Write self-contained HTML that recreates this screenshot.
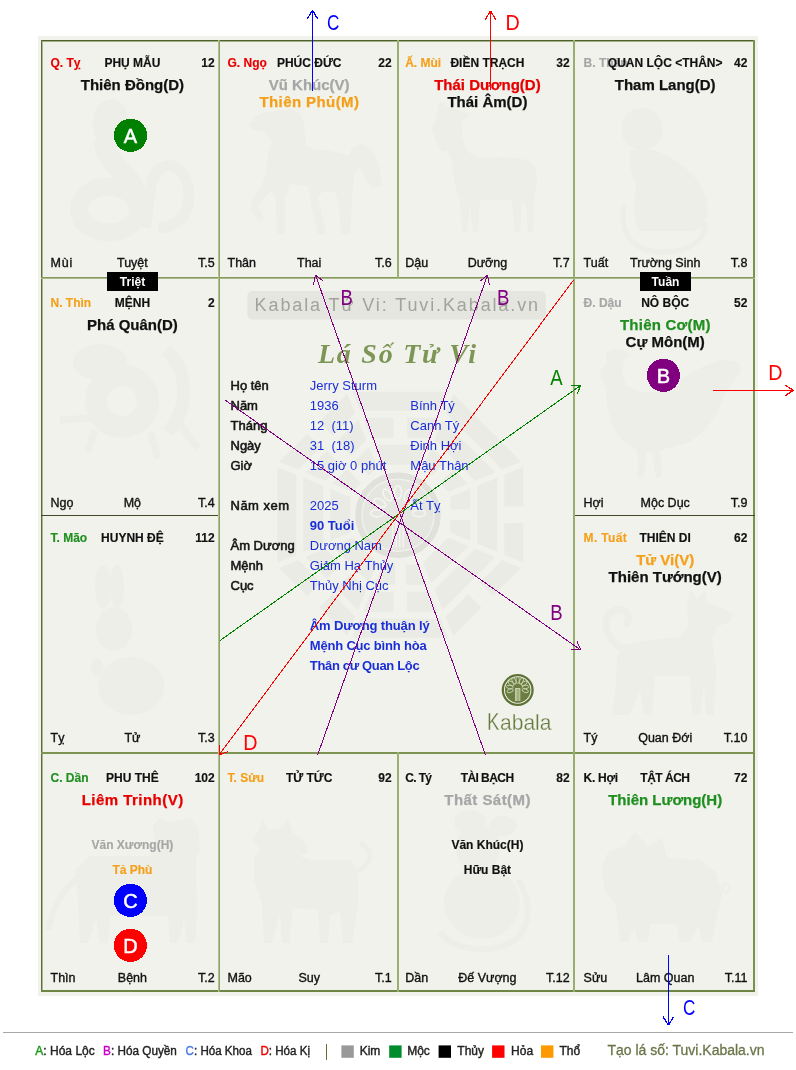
<!DOCTYPE html>
<html lang="vi"><head><meta charset="utf-8"><title>Lá Số Tử Vi</title>
<style>
html,body{margin:0;padding:0;background:#fff;width:796px;height:1070px;overflow:hidden}
svg{display:block;will-change:transform}
text{font-family:"Liberation Sans",sans-serif}
</style></head><body>
<svg width="796" height="1070" viewBox="0 0 796 1070">
<rect x="0" y="0" width="796" height="1070" fill="#fff"/>
<rect x="38" y="36" width="720" height="960" fill="#f2f2ed"/>
<g fill="#eaebe4">
<polygon points="-26.0,-70 26.0,-70 17.7,-50 -17.7,-50" transform="translate(400.3,514.8) rotate(0)"/>
<polygon points="-37.2,-97 -6.785,-97 -6.785,-77 -28.9,-77" transform="translate(400.3,514.8) rotate(0)"/>
<polygon points="6.785,-97 37.2,-97 28.9,-77 6.785,-77" transform="translate(400.3,514.8) rotate(0)"/>
<polygon points="-47.9,-123 47.9,-123 40.1,-104 -40.1,-104" transform="translate(400.3,514.8) rotate(0)"/>
<polygon points="-26.0,-70 -5.3,-70 -5.3,-50 -17.7,-50" transform="translate(400.3,514.8) rotate(45)"/>
<polygon points="5.3,-70 26.0,-70 17.7,-50 5.3,-50" transform="translate(400.3,514.8) rotate(45)"/>
<polygon points="-37.2,-97 37.2,-97 28.9,-77 -28.9,-77" transform="translate(400.3,514.8) rotate(45)"/>
<polygon points="-47.9,-123 47.9,-123 40.1,-104 -40.1,-104" transform="translate(400.3,514.8) rotate(45)"/>
<polygon points="-26.0,-70 -5.3,-70 -5.3,-50 -17.7,-50" transform="translate(400.3,514.8) rotate(90)"/>
<polygon points="5.3,-70 26.0,-70 17.7,-50 5.3,-50" transform="translate(400.3,514.8) rotate(90)"/>
<polygon points="-37.2,-97 37.2,-97 28.9,-77 -28.9,-77" transform="translate(400.3,514.8) rotate(90)"/>
<polygon points="-47.9,-123 -8.2425,-123 -8.2425,-104 -40.1,-104" transform="translate(400.3,514.8) rotate(90)"/>
<polygon points="8.2425,-123 47.9,-123 40.1,-104 8.2425,-104" transform="translate(400.3,514.8) rotate(90)"/>
<polygon points="-26.0,-70 26.0,-70 17.7,-50 -17.7,-50" transform="translate(400.3,514.8) rotate(135)"/>
<polygon points="-37.2,-97 37.2,-97 28.9,-77 -28.9,-77" transform="translate(400.3,514.8) rotate(135)"/>
<polygon points="-47.9,-123 -8.2425,-123 -8.2425,-104 -40.1,-104" transform="translate(400.3,514.8) rotate(135)"/>
<polygon points="8.2425,-123 47.9,-123 40.1,-104 8.2425,-104" transform="translate(400.3,514.8) rotate(135)"/>
<polygon points="-26.0,-70 -5.3,-70 -5.3,-50 -17.7,-50" transform="translate(400.3,514.8) rotate(180)"/>
<polygon points="5.3,-70 26.0,-70 17.7,-50 5.3,-50" transform="translate(400.3,514.8) rotate(180)"/>
<polygon points="-37.2,-97 -6.785,-97 -6.785,-77 -28.9,-77" transform="translate(400.3,514.8) rotate(180)"/>
<polygon points="6.785,-97 37.2,-97 28.9,-77 6.785,-77" transform="translate(400.3,514.8) rotate(180)"/>
<polygon points="-47.9,-123 47.9,-123 40.1,-104 -40.1,-104" transform="translate(400.3,514.8) rotate(180)"/>
<polygon points="-26.0,-70 26.0,-70 17.7,-50 -17.7,-50" transform="translate(400.3,514.8) rotate(225)"/>
<polygon points="-37.2,-97 -6.785,-97 -6.785,-77 -28.9,-77" transform="translate(400.3,514.8) rotate(225)"/>
<polygon points="6.785,-97 37.2,-97 28.9,-77 6.785,-77" transform="translate(400.3,514.8) rotate(225)"/>
<polygon points="-47.9,-123 -8.2425,-123 -8.2425,-104 -40.1,-104" transform="translate(400.3,514.8) rotate(225)"/>
<polygon points="8.2425,-123 47.9,-123 40.1,-104 8.2425,-104" transform="translate(400.3,514.8) rotate(225)"/>
<polygon points="-26.0,-70 26.0,-70 17.7,-50 -17.7,-50" transform="translate(400.3,514.8) rotate(270)"/>
<polygon points="-37.2,-97 37.2,-97 28.9,-77 -28.9,-77" transform="translate(400.3,514.8) rotate(270)"/>
<polygon points="-47.9,-123 47.9,-123 40.1,-104 -40.1,-104" transform="translate(400.3,514.8) rotate(270)"/>
<polygon points="-26.0,-70 -5.3,-70 -5.3,-50 -17.7,-50" transform="translate(400.3,514.8) rotate(315)"/>
<polygon points="5.3,-70 26.0,-70 17.7,-50 5.3,-50" transform="translate(400.3,514.8) rotate(315)"/>
<polygon points="-37.2,-97 -6.785,-97 -6.785,-77 -28.9,-77" transform="translate(400.3,514.8) rotate(315)"/>
<polygon points="6.785,-97 37.2,-97 28.9,-77 6.785,-77" transform="translate(400.3,514.8) rotate(315)"/>
<polygon points="-47.9,-123 -8.2425,-123 -8.2425,-104 -40.1,-104" transform="translate(400.3,514.8) rotate(315)"/>
<polygon points="8.2425,-123 47.9,-123 40.1,-104 8.2425,-104" transform="translate(400.3,514.8) rotate(315)"/>
</g>
<circle cx="398" cy="515.3" r="43" fill="#f2f2ed"/>
<circle cx="398" cy="515.3" r="39.7" fill="none" stroke="#dfe1da" stroke-width="6"/>
<circle cx="398" cy="515.3" r="35.5" fill="#e4e6df"/>
<g fill="none" stroke="#f3f4ef" stroke-width="1.8">
<ellipse cx="377.0" cy="513.3" rx="6.5" ry="3.5" transform="rotate(-180.0 377.0 513.3)"/>
<ellipse cx="379.8" cy="502.8" rx="6.5" ry="3.5" transform="rotate(-150.0 379.8 502.8)"/>
<ellipse cx="387.5" cy="495.1" rx="6.5" ry="3.5" transform="rotate(-120.0 387.5 495.1)"/>
<ellipse cx="398.0" cy="492.3" rx="6.5" ry="3.5" transform="rotate(-90.0 398.0 492.3)"/>
<ellipse cx="408.5" cy="495.1" rx="6.5" ry="3.5" transform="rotate(-60.0 408.5 495.1)"/>
<ellipse cx="416.2" cy="502.8" rx="6.5" ry="3.5" transform="rotate(-30.0 416.2 502.8)"/>
<ellipse cx="419.0" cy="513.3" rx="6.5" ry="3.5" transform="rotate(0.0 419.0 513.3)"/>
</g>
<rect x="392.0" y="519.3" width="1.5" height="28" fill="#f3f4ef"/>
<rect x="395.5" y="519.3" width="1.5" height="28" fill="#f3f4ef"/>
<rect x="399.0" y="519.3" width="1.5" height="28" fill="#f3f4ef"/>
<rect x="402.5" y="519.3" width="1.5" height="28" fill="#f3f4ef"/>
<g fill="#edeee8" stroke="none">
<ellipse cx="111" cy="124" rx="18" ry="25"/>
<path d="M104,140 C104,165 134,172 138,200" fill="none" stroke="#edeee8" stroke-width="20"/>
<ellipse cx="108.5" cy="209.5" rx="29.5" ry="23" fill="none" stroke="#edeee8" stroke-width="18"/>
<path d="M145,228 C150,200 148,170 165,166 C182,162 192,185 188,205 C184,222 170,228 158,228" fill="none" stroke="#edeee8" stroke-width="11"/>
<polygon points="249,125 255,117 264,113 280,110 293,110 300,114 304,122 305,135 306,145 313,149 330,151 344,154 349,156 352,148 362,144 372,150 378,162 381,175 381,186 372,188 366,180 360,168 355,172 353,185 352,201 350,234 341,234 339,205 335,192 322,192 318,198 326,234 318,234 312,210 308,186 290,184 285,200 285,234 277,234 276,202 272,190 265,197 258,207 264,218 259,221 250,210 253,198 262,185 266,172 268,152 272,141 264,132 253,130"/>
<polygon points="440,100 446,106 452,108 470,114 462,122 462,136 466,150 478,158 505,157 528,160 536,168 537,185 534,198 533,232 528,232 526,205 522,200 520,232 515,232 512,200 480,200 478,232 473,232 470,206 467,232 462,232 460,200 455,185 452,165 448,150 442,152 436,142 432,128 436,118"/>
<circle cx="642" cy="129" r="21"/>
<path d="M630,150 L655,150 C680,160 705,180 707,205 C708,222 702,230 690,231 L640,231 C632,220 634,200 636,185 C630,172 628,160 630,150 Z"/>
<path d="M624,205 C620,230 628,250 660,252 C690,253 706,240 705,222" fill="none" stroke="#edeee8" stroke-width="5"/>
<circle cx="122" cy="401" r="26" fill="none" stroke="#edeee8" stroke-width="22"/>
<ellipse cx="100" cy="362" rx="27" ry="18"/>
<path d="M166,350 C186,368 192,405 168,432" fill="none" stroke="#edeee8" stroke-width="13"/>
<path d="M95,430 L88,452 M150,432 L158,458 M180,425 L198,448 M92,418 L60,420" fill="none" stroke="#edeee8" stroke-width="7"/>
<path d="M600,372 L607,362 L606,352 L614,349 L622,350 L630,354 L624,360 L622,372 L626,385 L640,392 L660,392 L680,380 L700,368 L720,360 L739,362 L741,372 L730,385 L722,400 L716,415 L705,430 L690,442 L670,448 L660,450 L662,476 L656,478 L652,452 L646,452 L644,476 L638,478 L637,450 L622,440 L612,425 L607,405 L606,388 L602,380 Z"/>
<ellipse cx="103" cy="587" rx="8" ry="22"/>
<ellipse cx="117" cy="587" rx="7" ry="22"/>
<ellipse cx="114" cy="629" rx="18" ry="22"/>
<ellipse cx="131" cy="686" rx="33" ry="29"/>
<ellipse cx="97" cy="667" rx="6" ry="9"/>
<path d="M691,590 L697,600 L705,591 L708,603 L722,608 L734,614 L730,622 L716,627 L712,640 L716,670 L714,715 L706,715 L704,685 L700,715 L692,715 L690,676 L655,676 L652,715 L644,715 L640,690 L630,715 L612,715 L616,685 L617,660 L622,645 L650,640 L680,637 L688,626 L687,605 Z"/>
<path d="M622,648 C605,640 600,615 615,610 C628,606 632,620 625,626" fill="none" stroke="#edeee8" stroke-width="7"/>
<path d="M153,826 L160,818 L170,822 L190,818 L198,828 L200,850 L196,860 L197,916 L195,943 L187,943 L184,918 L178,943 L170,943 L168,916 L110,916 L108,943 L100,943 L96,918 L88,943 L80,943 L78,900 L75,870 L90,856 L150,856 L155,840 Z"/>
<path d="M78,878 C62,890 52,910 48,930" fill="none" stroke="#edeee8" stroke-width="6"/>
<path d="M263,818 L268,830 L282,828 L288,818 L292,832 L305,842 L308,852 L300,856 L310,860 L350,860 L358,872 L358,905 L352,943 L343,943 L340,912 L330,915 L328,943 L320,943 L318,910 L292,908 L290,943 L282,943 L280,912 L272,943 L264,943 L262,905 L254,880 L254,858 L260,848 L252,840 L258,832 Z"/>
<path d="M356,872 C372,866 375,848 360,844" fill="none" stroke="#edeee8" stroke-width="5"/>
<ellipse cx="470" cy="822" rx="16" ry="12"/>
<ellipse cx="503" cy="826" rx="14" ry="10"/>
<ellipse cx="478" cy="848" rx="22" ry="24"/>
<ellipse cx="482" cy="903" rx="38" ry="36"/>
<path d="M518,880 C535,905 532,940 496,948 C470,952 448,945 440,932" fill="none" stroke="#edeee8" stroke-width="6"/>
<path d="M635,832 L648,846 L662,838 L667,858 L700,860 L716,872 L722,895 L716,920 L712,942 L702,942 L698,925 L690,942 L680,942 L676,924 L650,924 L648,942 L638,942 L634,926 L628,942 L620,942 L616,905 L606,892 L601,870 L608,852 L625,846 Z"/>
<circle cx="726" cy="888" r="4" fill="none" stroke="#edeee8" stroke-width="2"/>
</g>
<rect x="41" y="40" width="714" height="1" fill="#4f5f30"/>
<rect x="42" y="41" width="712" height="1" fill="#a2b283"/>
<rect x="41" y="40" width="1" height="952" fill="#5d6e3b"/>
<rect x="42" y="41" width="1" height="950" fill="#a9b98b"/>
<rect x="753" y="40" width="1" height="952" fill="#7a9150"/>
<rect x="754" y="40" width="1" height="952" fill="#7a9150"/>
<rect x="41" y="990" width="714" height="1" fill="#6e8545"/>
<rect x="41" y="991" width="714" height="1" fill="#6e8545"/>
<rect x="41" y="277" width="714" height="1" fill="#86985a"/>
<rect x="41" y="278" width="714" height="1" fill="#a9b98b"/>
<rect x="41" y="515" width="179" height="1" fill="#3e4a28"/>
<rect x="573" y="515" width="182" height="1" fill="#3e4a28"/>
<rect x="41" y="752" width="714" height="1" fill="#7d9352"/>
<rect x="41" y="753" width="714" height="1" fill="#7d9352"/>
<rect x="218" y="40" width="1" height="952" fill="#b0c090"/>
<rect x="219" y="40" width="1" height="952" fill="#8ca262"/>
<rect x="397" y="40" width="1" height="238" fill="#9bb070"/>
<rect x="398" y="40" width="1" height="238" fill="#9bb070"/>
<rect x="397" y="752" width="1" height="240" fill="#9bb070"/>
<rect x="398" y="752" width="1" height="240" fill="#9bb070"/>
<rect x="573" y="40" width="1" height="952" fill="#98ad6e"/>
<rect x="574" y="40" width="1" height="952" fill="#98ad6e"/>
<text x="50.50" y="67.00" font-size="12" font-weight="bold" fill="#e80000" text-anchor="start" stroke="#e80000" stroke-width="0.15">Q. Tỵ</text>
<text x="132.40" y="67.00" font-size="12" font-weight="bold" fill="#111" text-anchor="middle" stroke="#111" stroke-width="0.15">PHỤ MẪU</text>
<text x="214.70" y="67.00" font-size="12" font-weight="bold" fill="#111" text-anchor="end" stroke="#111" stroke-width="0.15">12</text>
<text x="132.40" y="89.60" font-size="15" font-weight="bold" fill="#111" text-anchor="middle" stroke="#111" stroke-width="0.25">Thiên Đồng(D)</text>
<text x="50.50" y="267.00" font-size="12.5" font-weight="normal" fill="#111" text-anchor="start" stroke="#111" stroke-width="0.35" textLength="21.66" lengthAdjust="spacing">Mùi</text>
<text x="132.40" y="267.00" font-size="12.5" font-weight="normal" fill="#111" text-anchor="middle" stroke="#111" stroke-width="0.35">Tuyệt</text>
<text x="214.70" y="267.00" font-size="12.5" font-weight="normal" fill="#111" text-anchor="end" stroke="#111" stroke-width="0.35">T.5</text>
<text x="227.50" y="67.00" font-size="12" font-weight="bold" fill="#e80000" text-anchor="start" stroke="#e80000" stroke-width="0.15">G. Ngọ</text>
<text x="309.20" y="67.00" font-size="12" font-weight="bold" fill="#111" text-anchor="middle" stroke="#111" stroke-width="0.15">PHÚC ĐỨC</text>
<text x="391.70" y="67.00" font-size="12" font-weight="bold" fill="#111" text-anchor="end" stroke="#111" stroke-width="0.15">22</text>
<text x="309.20" y="89.60" font-size="15" font-weight="bold" fill="#a6a6a6" text-anchor="middle" stroke="#a6a6a6" stroke-width="0.25">Vũ Khúc(V)</text>
<text x="309.20" y="106.60" font-size="15" font-weight="bold" fill="#f5a01a" text-anchor="middle" stroke="#f5a01a" stroke-width="0.25" textLength="99.48" lengthAdjust="spacing">Thiên Phủ(M)</text>
<text x="227.50" y="267.00" font-size="12.5" font-weight="normal" fill="#111" text-anchor="start" stroke="#111" stroke-width="0.35">Thân</text>
<text x="309.20" y="267.00" font-size="12.5" font-weight="normal" fill="#111" text-anchor="middle" stroke="#111" stroke-width="0.35">Thai</text>
<text x="391.70" y="267.00" font-size="12.5" font-weight="normal" fill="#111" text-anchor="end" stroke="#111" stroke-width="0.35">T.6</text>
<text x="405.20" y="67.00" font-size="12" font-weight="bold" fill="#f5a01a" text-anchor="start" stroke="#f5a01a" stroke-width="0.15">Ấ. Mùi</text>
<text x="487.40" y="67.00" font-size="12" font-weight="bold" fill="#111" text-anchor="middle" stroke="#111" stroke-width="0.15">ĐIỀN TRẠCH</text>
<text x="569.70" y="67.00" font-size="12" font-weight="bold" fill="#111" text-anchor="end" stroke="#111" stroke-width="0.15">32</text>
<text x="487.40" y="89.60" font-size="15" font-weight="bold" fill="#e80000" text-anchor="middle" stroke="#e80000" stroke-width="0.25">Thái Dương(D)</text>
<text x="487.40" y="106.60" font-size="15" font-weight="bold" fill="#111" text-anchor="middle" stroke="#111" stroke-width="0.25">Thái Âm(D)</text>
<text x="405.20" y="267.00" font-size="12.5" font-weight="normal" fill="#111" text-anchor="start" stroke="#111" stroke-width="0.35">Dậu</text>
<text x="487.40" y="267.00" font-size="12.5" font-weight="normal" fill="#111" text-anchor="middle" stroke="#111" stroke-width="0.35">Dưỡng</text>
<text x="569.70" y="267.00" font-size="12.5" font-weight="normal" fill="#111" text-anchor="end" stroke="#111" stroke-width="0.35">T.7</text>
<text x="583.60" y="67.00" font-size="12" font-weight="bold" fill="#a6a6a6" text-anchor="start" stroke="#a6a6a6" stroke-width="0.15">B. Thân</text>
<text x="665.20" y="67.00" font-size="12" font-weight="bold" fill="#111" text-anchor="middle" stroke="#111" stroke-width="0.15">QUAN LỘC &lt;THÂN&gt;</text>
<text x="747.40" y="67.00" font-size="12" font-weight="bold" fill="#111" text-anchor="end" stroke="#111" stroke-width="0.15">42</text>
<text x="665.20" y="89.60" font-size="15" font-weight="bold" fill="#111" text-anchor="middle" stroke="#111" stroke-width="0.25">Tham Lang(D)</text>
<text x="583.60" y="267.00" font-size="12.5" font-weight="normal" fill="#111" text-anchor="start" stroke="#111" stroke-width="0.35">Tuất</text>
<text x="665.20" y="267.00" font-size="12.5" font-weight="normal" fill="#111" text-anchor="middle" stroke="#111" stroke-width="0.35">Trường Sinh</text>
<text x="747.40" y="267.00" font-size="12.5" font-weight="normal" fill="#111" text-anchor="end" stroke="#111" stroke-width="0.35">T.8</text>
<text x="50.50" y="307.00" font-size="12" font-weight="bold" fill="#f5a01a" text-anchor="start" stroke="#f5a01a" stroke-width="0.15">N. Thìn</text>
<text x="132.40" y="307.00" font-size="12" font-weight="bold" fill="#111" text-anchor="middle" stroke="#111" stroke-width="0.15">MỆNH</text>
<text x="214.70" y="307.00" font-size="12" font-weight="bold" fill="#111" text-anchor="end" stroke="#111" stroke-width="0.15">2</text>
<text x="132.40" y="329.60" font-size="15" font-weight="bold" fill="#111" text-anchor="middle" stroke="#111" stroke-width="0.25">Phá Quân(D)</text>
<text x="50.50" y="507.00" font-size="12.5" font-weight="normal" fill="#111" text-anchor="start" stroke="#111" stroke-width="0.35">Ngọ</text>
<text x="132.40" y="507.00" font-size="12.5" font-weight="normal" fill="#111" text-anchor="middle" stroke="#111" stroke-width="0.35">Mộ</text>
<text x="214.70" y="507.00" font-size="12.5" font-weight="normal" fill="#111" text-anchor="end" stroke="#111" stroke-width="0.35">T.4</text>
<text x="583.60" y="307.00" font-size="12" font-weight="bold" fill="#a6a6a6" text-anchor="start" stroke="#a6a6a6" stroke-width="0.15">Đ. Dậu</text>
<text x="665.20" y="307.00" font-size="12" font-weight="bold" fill="#111" text-anchor="middle" stroke="#111" stroke-width="0.15">NÔ BỘC</text>
<text x="747.40" y="307.00" font-size="12" font-weight="bold" fill="#111" text-anchor="end" stroke="#111" stroke-width="0.15">52</text>
<text x="665.20" y="329.60" font-size="15" font-weight="bold" fill="#1f8f1f" text-anchor="middle" stroke="#1f8f1f" stroke-width="0.25" textLength="90.56" lengthAdjust="spacing">Thiên Cơ(M)</text>
<text x="665.20" y="346.60" font-size="15" font-weight="bold" fill="#111" text-anchor="middle" stroke="#111" stroke-width="0.25">Cự Môn(M)</text>
<text x="583.60" y="507.00" font-size="12.5" font-weight="normal" fill="#111" text-anchor="start" stroke="#111" stroke-width="0.35">Hợi</text>
<text x="665.20" y="507.00" font-size="12.5" font-weight="normal" fill="#111" text-anchor="middle" stroke="#111" stroke-width="0.35">Mộc Dục</text>
<text x="747.40" y="507.00" font-size="12.5" font-weight="normal" fill="#111" text-anchor="end" stroke="#111" stroke-width="0.35">T.9</text>
<text x="50.50" y="542.00" font-size="12" font-weight="bold" fill="#1f8f1f" text-anchor="start" stroke="#1f8f1f" stroke-width="0.15">T. Mão</text>
<text x="132.40" y="542.00" font-size="12" font-weight="bold" fill="#111" text-anchor="middle" stroke="#111" stroke-width="0.15">HUYNH ĐỆ</text>
<text x="214.70" y="542.00" font-size="12" font-weight="bold" fill="#111" text-anchor="end" stroke="#111" stroke-width="0.15">112</text>
<text x="50.50" y="742.00" font-size="12.5" font-weight="normal" fill="#111" text-anchor="start" stroke="#111" stroke-width="0.35">Tỵ</text>
<text x="132.40" y="742.00" font-size="12.5" font-weight="normal" fill="#111" text-anchor="middle" stroke="#111" stroke-width="0.35">Tử</text>
<text x="214.70" y="742.00" font-size="12.5" font-weight="normal" fill="#111" text-anchor="end" stroke="#111" stroke-width="0.35">T.3</text>
<text x="583.60" y="542.00" font-size="12" font-weight="bold" fill="#f5a01a" text-anchor="start" stroke="#f5a01a" stroke-width="0.15" textLength="43.11" lengthAdjust="spacing">M. Tuất</text>
<text x="665.20" y="542.00" font-size="12" font-weight="bold" fill="#111" text-anchor="middle" stroke="#111" stroke-width="0.15">THIÊN DI</text>
<text x="747.40" y="542.00" font-size="12" font-weight="bold" fill="#111" text-anchor="end" stroke="#111" stroke-width="0.15">62</text>
<text x="665.20" y="564.60" font-size="15" font-weight="bold" fill="#f5a01a" text-anchor="middle" stroke="#f5a01a" stroke-width="0.25">Tử Vi(V)</text>
<text x="665.20" y="581.60" font-size="15" font-weight="bold" fill="#111" text-anchor="middle" stroke="#111" stroke-width="0.25">Thiên Tướng(V)</text>
<text x="583.60" y="742.00" font-size="12.5" font-weight="normal" fill="#111" text-anchor="start" stroke="#111" stroke-width="0.35">Tý</text>
<text x="665.20" y="742.00" font-size="12.5" font-weight="normal" fill="#111" text-anchor="middle" stroke="#111" stroke-width="0.35">Quan Đới</text>
<text x="747.40" y="742.00" font-size="12.5" font-weight="normal" fill="#111" text-anchor="end" stroke="#111" stroke-width="0.35">T.10</text>
<text x="50.50" y="782.00" font-size="12" font-weight="bold" fill="#1f8f1f" text-anchor="start" stroke="#1f8f1f" stroke-width="0.15">C. Dần</text>
<text x="132.40" y="782.00" font-size="12" font-weight="bold" fill="#111" text-anchor="middle" stroke="#111" stroke-width="0.15">PHU THÊ</text>
<text x="214.70" y="782.00" font-size="12" font-weight="bold" fill="#111" text-anchor="end" stroke="#111" stroke-width="0.15">102</text>
<text x="132.40" y="804.60" font-size="15" font-weight="bold" fill="#e80000" text-anchor="middle" stroke="#e80000" stroke-width="0.25" textLength="101.54" lengthAdjust="spacing">Liêm Trinh(V)</text>
<text x="132.40" y="848.50" font-size="12" font-weight="bold" fill="#a6a6a6" text-anchor="middle" stroke="#a6a6a6" stroke-width="0.15">Văn Xương(H)</text>
<text x="132.40" y="873.50" font-size="12" font-weight="bold" fill="#f5a01a" text-anchor="middle" stroke="#f5a01a" stroke-width="0.15">Tả Phù</text>
<text x="50.50" y="982.00" font-size="12.5" font-weight="normal" fill="#111" text-anchor="start" stroke="#111" stroke-width="0.35">Thìn</text>
<text x="132.40" y="982.00" font-size="12.5" font-weight="normal" fill="#111" text-anchor="middle" stroke="#111" stroke-width="0.35">Bệnh</text>
<text x="214.70" y="982.00" font-size="12.5" font-weight="normal" fill="#111" text-anchor="end" stroke="#111" stroke-width="0.35">T.2</text>
<text x="227.50" y="782.00" font-size="12" font-weight="bold" fill="#f5a01a" text-anchor="start" stroke="#f5a01a" stroke-width="0.15">T. Sửu</text>
<text x="309.20" y="782.00" font-size="12" font-weight="bold" fill="#111" text-anchor="middle" stroke="#111" stroke-width="0.15">TỬ TỨC</text>
<text x="391.70" y="782.00" font-size="12" font-weight="bold" fill="#111" text-anchor="end" stroke="#111" stroke-width="0.15">92</text>
<text x="227.50" y="982.00" font-size="12.5" font-weight="normal" fill="#111" text-anchor="start" stroke="#111" stroke-width="0.35">Mão</text>
<text x="309.20" y="982.00" font-size="12.5" font-weight="normal" fill="#111" text-anchor="middle" stroke="#111" stroke-width="0.35">Suy</text>
<text x="391.70" y="982.00" font-size="12.5" font-weight="normal" fill="#111" text-anchor="end" stroke="#111" stroke-width="0.35">T.1</text>
<text x="405.20" y="782.00" font-size="12" font-weight="bold" fill="#111" text-anchor="start" stroke="#111" stroke-width="0.15" textLength="26.84" lengthAdjust="spacing">C. Tý</text>
<text x="487.40" y="782.00" font-size="12" font-weight="bold" fill="#111" text-anchor="middle" stroke="#111" stroke-width="0.15" textLength="53.33" lengthAdjust="spacing">TÀI BẠCH</text>
<text x="569.70" y="782.00" font-size="12" font-weight="bold" fill="#111" text-anchor="end" stroke="#111" stroke-width="0.15">82</text>
<text x="487.40" y="804.60" font-size="15" font-weight="bold" fill="#a6a6a6" text-anchor="middle" stroke="#a6a6a6" stroke-width="0.25" textLength="86.07" lengthAdjust="spacing">Thất Sát(M)</text>
<text x="487.40" y="848.50" font-size="12" font-weight="bold" fill="#111" text-anchor="middle" stroke="#111" stroke-width="0.15">Văn Khúc(H)</text>
<text x="487.40" y="873.50" font-size="12" font-weight="bold" fill="#111" text-anchor="middle" stroke="#111" stroke-width="0.15">Hữu Bật</text>
<text x="405.20" y="982.00" font-size="12.5" font-weight="normal" fill="#111" text-anchor="start" stroke="#111" stroke-width="0.35">Dần</text>
<text x="487.40" y="982.00" font-size="12.5" font-weight="normal" fill="#111" text-anchor="middle" stroke="#111" stroke-width="0.35">Đế Vượng</text>
<text x="569.70" y="982.00" font-size="12.5" font-weight="normal" fill="#111" text-anchor="end" stroke="#111" stroke-width="0.35">T.12</text>
<text x="583.60" y="782.00" font-size="12" font-weight="bold" fill="#111" text-anchor="start" stroke="#111" stroke-width="0.15" textLength="34.38" lengthAdjust="spacing">K. Hợi</text>
<text x="665.20" y="782.00" font-size="12" font-weight="bold" fill="#111" text-anchor="middle" stroke="#111" stroke-width="0.15" textLength="49.67" lengthAdjust="spacing">TẬT ÁCH</text>
<text x="747.40" y="782.00" font-size="12" font-weight="bold" fill="#111" text-anchor="end" stroke="#111" stroke-width="0.15">72</text>
<text x="665.20" y="804.60" font-size="15" font-weight="bold" fill="#1f8f1f" text-anchor="middle" stroke="#1f8f1f" stroke-width="0.25">Thiên Lương(H)</text>
<text x="583.60" y="982.00" font-size="12.5" font-weight="normal" fill="#111" text-anchor="start" stroke="#111" stroke-width="0.35">Sửu</text>
<text x="665.20" y="982.00" font-size="12.5" font-weight="normal" fill="#111" text-anchor="middle" stroke="#111" stroke-width="0.35">Lâm Quan</text>
<text x="747.40" y="982.00" font-size="12.5" font-weight="normal" fill="#111" text-anchor="end" stroke="#111" stroke-width="0.35">T.11</text>
<rect x="107" y="272" width="51" height="19" fill="#000"/>
<text x="132.50" y="285.80" font-size="12" font-weight="bold" fill="#fff" text-anchor="middle" >Triệt</text>
<rect x="640" y="272" width="51" height="19" fill="#000"/>
<text x="665.50" y="285.80" font-size="12" font-weight="bold" fill="#fff" text-anchor="middle" >Tuần</text>
<circle cx="130.5" cy="135.4" r="16.6" fill="#008000" shape-rendering="crispEdges"/>
<text x="130.50" y="142.70" font-size="20" font-weight="normal" fill="#fff" text-anchor="middle" stroke="#fff" stroke-width="0.5">A</text>
<circle cx="663.4" cy="375.3" r="16.6" fill="#800080" shape-rendering="crispEdges"/>
<text x="663.40" y="382.60" font-size="20" font-weight="normal" fill="#fff" text-anchor="middle" stroke="#fff" stroke-width="0.5">B</text>
<circle cx="130.4" cy="900.3" r="16.6" fill="#0000ff" shape-rendering="crispEdges"/>
<text x="130.40" y="907.60" font-size="20" font-weight="normal" fill="#fff" text-anchor="middle" stroke="#fff" stroke-width="0.5">C</text>
<circle cx="130.4" cy="945.3" r="16.6" fill="#ff0000" shape-rendering="crispEdges"/>
<text x="130.40" y="952.60" font-size="20" font-weight="normal" fill="#fff" text-anchor="middle" stroke="#fff" stroke-width="0.5">D</text>
<rect x="247.3" y="291" width="298.7" height="28.5" rx="5" fill="#e6e6e1"/>
<text x="254.60" y="311.00" font-size="18" font-weight="normal" fill="#a3a39d" text-anchor="start" textLength="283.5" lengthAdjust="spacing">Kabala Tử Vi: Tuvi.Kabala.vn</text>
<text x="318.00" y="363.00" font-size="28" font-weight="bold" fill="#7d9655" text-anchor="start" style="font-family:'Liberation Serif',serif;font-style:italic" textLength="158" lengthAdjust="spacing">Lá Số Tử Vi</text>
<text x="230.50" y="390.00" font-size="13" font-weight="normal" fill="#141414" text-anchor="start" stroke="#141414" stroke-width="0.55" xml:space="preserve">Họ tên</text>
<text x="309.80" y="390.00" font-size="13" font-weight="normal" fill="#1a2ed8" text-anchor="start" xml:space="preserve">Jerry Sturm</text>
<text x="230.50" y="410.00" font-size="13" font-weight="normal" fill="#141414" text-anchor="start" stroke="#141414" stroke-width="0.55" xml:space="preserve">Năm</text>
<text x="309.80" y="410.00" font-size="13" font-weight="normal" fill="#1a2ed8" text-anchor="start" xml:space="preserve">1936</text>
<text x="410.30" y="410.00" font-size="13" font-weight="normal" fill="#1a2ed8" text-anchor="start" >Bính Tý</text>
<text x="230.50" y="430.00" font-size="13" font-weight="normal" fill="#141414" text-anchor="start" stroke="#141414" stroke-width="0.55" xml:space="preserve">Tháng</text>
<text x="309.80" y="430.00" font-size="13" font-weight="normal" fill="#1a2ed8" text-anchor="start" xml:space="preserve">12  (11)</text>
<text x="410.30" y="430.00" font-size="13" font-weight="normal" fill="#1a2ed8" text-anchor="start" >Canh Tý</text>
<text x="230.50" y="450.00" font-size="13" font-weight="normal" fill="#141414" text-anchor="start" stroke="#141414" stroke-width="0.55" xml:space="preserve">Ngày</text>
<text x="309.80" y="450.00" font-size="13" font-weight="normal" fill="#1a2ed8" text-anchor="start" xml:space="preserve">31  (18)</text>
<text x="410.30" y="450.00" font-size="13" font-weight="normal" fill="#1a2ed8" text-anchor="start" >Đinh Hợi</text>
<text x="230.50" y="470.00" font-size="13" font-weight="normal" fill="#141414" text-anchor="start" stroke="#141414" stroke-width="0.55" xml:space="preserve">Giờ</text>
<text x="309.80" y="470.00" font-size="13" font-weight="normal" fill="#1a2ed8" text-anchor="start" xml:space="preserve">15 giờ 0 phút</text>
<text x="410.30" y="470.00" font-size="13" font-weight="normal" fill="#1a2ed8" text-anchor="start" >Mậu Thân</text>
<text x="230.50" y="510.00" font-size="13" font-weight="normal" fill="#141414" text-anchor="start" stroke="#141414" stroke-width="0.55" xml:space="preserve" textLength="58.62" lengthAdjust="spacing">Năm xem</text>
<text x="309.80" y="510.00" font-size="13" font-weight="normal" fill="#1a2ed8" text-anchor="start" xml:space="preserve">2025</text>
<text x="410.30" y="510.00" font-size="13" font-weight="normal" fill="#1a2ed8" text-anchor="start" >Ất Tỵ</text>
<text x="230.50" y="550.00" font-size="13" font-weight="normal" fill="#141414" text-anchor="start" stroke="#141414" stroke-width="0.55" xml:space="preserve">Âm Dương</text>
<text x="309.80" y="550.00" font-size="13" font-weight="normal" fill="#1a2ed8" text-anchor="start" xml:space="preserve">Dương Nam</text>
<text x="230.50" y="570.00" font-size="13" font-weight="normal" fill="#141414" text-anchor="start" stroke="#141414" stroke-width="0.55" xml:space="preserve">Mệnh</text>
<text x="309.80" y="570.00" font-size="13" font-weight="normal" fill="#1a2ed8" text-anchor="start" xml:space="preserve">Giảm Hạ Thủy</text>
<text x="230.50" y="590.00" font-size="13" font-weight="normal" fill="#141414" text-anchor="start" stroke="#141414" stroke-width="0.55" xml:space="preserve">Cục</text>
<text x="309.80" y="590.00" font-size="13" font-weight="normal" fill="#1a2ed8" text-anchor="start" xml:space="preserve">Thủy Nhị Cục</text>
<text x="309.80" y="530.00" font-size="13" font-weight="bold" fill="#1a2ed8" text-anchor="start" >90 Tuổi</text>
<text x="309.80" y="630.00" font-size="13" font-weight="bold" fill="#1a2ed8" text-anchor="start"  textLength="119.94" lengthAdjust="spacing">Âm Dương thuận lý</text>
<text x="309.80" y="650.00" font-size="13" font-weight="bold" fill="#1a2ed8" text-anchor="start"  textLength="116.89" lengthAdjust="spacing">Mệnh Cục bình hòa</text>
<text x="309.80" y="670.00" font-size="13" font-weight="bold" fill="#1a2ed8" text-anchor="start"  textLength="109.88" lengthAdjust="spacing">Thân cư Quan Lộc</text>
<circle cx="517.7" cy="690" r="16" fill="#5d7035"/>
<circle cx="517.7" cy="690" r="13.2" fill="none" stroke="#eef1e2" stroke-width="1.1"/>
<circle cx="517.7" cy="690" r="12.4" fill="#6a7d42"/>
<rect x="515.1" y="688" width="5.2" height="13" fill="#c9d3ab"/>
<rect x="516.8000000000001" y="689" width="0.6" height="12" fill="#6a7d42"/>
<rect x="518.6" y="689" width="0.6" height="12" fill="#6a7d42"/>
<ellipse cx="510.2" cy="690.7" rx="3.3" ry="1.7" fill="none" stroke="#c9d3ab" stroke-width="0.9" transform="rotate(-200.0 510.2 690.7)"/>
<ellipse cx="509.8" cy="687.0" rx="3.3" ry="1.7" fill="none" stroke="#c9d3ab" stroke-width="0.9" transform="rotate(-172.5 509.8 687.0)"/>
<ellipse cx="511.1" cy="683.4" rx="3.3" ry="1.7" fill="none" stroke="#c9d3ab" stroke-width="0.9" transform="rotate(-145.0 511.1 683.4)"/>
<ellipse cx="514.0" cy="680.9" rx="3.3" ry="1.7" fill="none" stroke="#c9d3ab" stroke-width="0.9" transform="rotate(-117.5 514.0 680.9)"/>
<ellipse cx="517.7" cy="680.0" rx="3.3" ry="1.7" fill="none" stroke="#c9d3ab" stroke-width="0.9" transform="rotate(-90.0 517.7 680.0)"/>
<ellipse cx="521.4" cy="680.9" rx="3.3" ry="1.7" fill="none" stroke="#c9d3ab" stroke-width="0.9" transform="rotate(-62.5 521.4 680.9)"/>
<ellipse cx="524.3" cy="683.4" rx="3.3" ry="1.7" fill="none" stroke="#c9d3ab" stroke-width="0.9" transform="rotate(-35.0 524.3 683.4)"/>
<ellipse cx="525.6" cy="687.0" rx="3.3" ry="1.7" fill="none" stroke="#c9d3ab" stroke-width="0.9" transform="rotate(-7.5 525.6 687.0)"/>
<ellipse cx="525.2" cy="690.7" rx="3.3" ry="1.7" fill="none" stroke="#c9d3ab" stroke-width="0.9" transform="rotate(20.0 525.2 690.7)"/>
<text x="487.00" y="730.40" font-size="23.5" font-weight="normal" fill="#667a3e" text-anchor="start" stroke="#f2f2ed" stroke-width="0.35" textLength="12.5" lengthAdjust="spacingAndGlyphs">K</text>
<text x="500.00" y="730.40" font-size="21.4" font-weight="normal" fill="#667a3e" text-anchor="start" stroke="#f2f2ed" stroke-width="0.3" textLength="51.5" lengthAdjust="spacingAndGlyphs">abala</text>
<line x1="485.6" y1="755.4" x2="315.5" y2="275" stroke="#800080" stroke-width="1" shape-rendering="crispEdges"/>
<line x1="315.5" y1="275" x2="313.34" y2="284.76" stroke="#800080" stroke-width="1" shape-rendering="crispEdges"/>
<line x1="315.5" y1="275" x2="323.33" y2="281.23" stroke="#800080" stroke-width="1" shape-rendering="crispEdges"/>
<line x1="317.5" y1="755.4" x2="487.4" y2="275.3" stroke="#800080" stroke-width="1" shape-rendering="crispEdges"/>
<line x1="487.4" y1="275.3" x2="479.58" y2="281.53" stroke="#800080" stroke-width="1" shape-rendering="crispEdges"/>
<line x1="487.4" y1="275.3" x2="489.57" y2="285.06" stroke="#800080" stroke-width="1" shape-rendering="crispEdges"/>
<line x1="225" y1="400" x2="580.7" y2="650" stroke="#800080" stroke-width="1" shape-rendering="crispEdges"/>
<line x1="580.7" y1="650" x2="576.81" y2="640.79" stroke="#800080" stroke-width="1" shape-rendering="crispEdges"/>
<line x1="580.7" y1="650" x2="570.71" y2="649.46" stroke="#800080" stroke-width="1" shape-rendering="crispEdges"/>
<line x1="220" y1="640.5" x2="580.7" y2="385.4" stroke="#008000" stroke-width="1" shape-rendering="crispEdges"/>
<line x1="580.7" y1="385.4" x2="570.72" y2="385.97" stroke="#008000" stroke-width="1" shape-rendering="crispEdges"/>
<line x1="580.7" y1="385.4" x2="576.84" y2="394.62" stroke="#008000" stroke-width="1" shape-rendering="crispEdges"/>
<line x1="573.6" y1="280" x2="219" y2="755" stroke="#ff0000" stroke-width="1" shape-rendering="crispEdges"/>
<line x1="219" y1="755" x2="228.32" y2="751.37" stroke="#ff0000" stroke-width="1" shape-rendering="crispEdges"/>
<line x1="219" y1="755" x2="219.83" y2="745.03" stroke="#ff0000" stroke-width="1" shape-rendering="crispEdges"/>
<line x1="312.5" y1="91" x2="312.5" y2="10.5" stroke="#0000ff" stroke-width="1.3" shape-rendering="crispEdges"/>
<line x1="312.5" y1="10.5" x2="307.20" y2="18.98" stroke="#0000ff" stroke-width="1.3" shape-rendering="crispEdges"/>
<line x1="312.5" y1="10.5" x2="317.80" y2="18.98" stroke="#0000ff" stroke-width="1.3" shape-rendering="crispEdges"/>
<line x1="490.5" y1="90" x2="490.5" y2="11" stroke="#ff0000" stroke-width="1.3" shape-rendering="crispEdges"/>
<line x1="490.5" y1="11" x2="485.20" y2="19.48" stroke="#ff0000" stroke-width="1.3" shape-rendering="crispEdges"/>
<line x1="490.5" y1="11" x2="495.80" y2="19.48" stroke="#ff0000" stroke-width="1.3" shape-rendering="crispEdges"/>
<line x1="713" y1="390.4" x2="793.5" y2="390.4" stroke="#ff0000" stroke-width="1.3" shape-rendering="crispEdges"/>
<line x1="793.5" y1="390.4" x2="785.02" y2="385.10" stroke="#ff0000" stroke-width="1.3" shape-rendering="crispEdges"/>
<line x1="793.5" y1="390.4" x2="785.02" y2="395.70" stroke="#ff0000" stroke-width="1.3" shape-rendering="crispEdges"/>
<line x1="668.4" y1="955.3" x2="668.4" y2="1025.2" stroke="#0000ff" stroke-width="1.3" shape-rendering="crispEdges"/>
<line x1="668.4" y1="1025.2" x2="673.70" y2="1016.72" stroke="#0000ff" stroke-width="1.3" shape-rendering="crispEdges"/>
<line x1="668.4" y1="1025.2" x2="663.10" y2="1016.72" stroke="#0000ff" stroke-width="1.3" shape-rendering="crispEdges"/>
<text x="327.00" y="30.00" font-size="21.6" font-weight="normal" fill="#0000ff" text-anchor="start" textLength="12.4" lengthAdjust="spacingAndGlyphs">C</text>
<text x="505.50" y="30.00" font-size="21.6" font-weight="normal" fill="#ff0000" text-anchor="start" textLength="14.3" lengthAdjust="spacingAndGlyphs">D</text>
<text x="768.30" y="379.50" font-size="21.6" font-weight="normal" fill="#ff0000" text-anchor="start" textLength="14.3" lengthAdjust="spacingAndGlyphs">D</text>
<text x="683.00" y="1015.00" font-size="21.6" font-weight="normal" fill="#0000ff" text-anchor="start" textLength="12.4" lengthAdjust="spacingAndGlyphs">C</text>
<text x="340.50" y="304.70" font-size="21.6" font-weight="normal" fill="#800080" text-anchor="start" textLength="12.4" lengthAdjust="spacingAndGlyphs">B</text>
<text x="497.00" y="305.00" font-size="21.6" font-weight="normal" fill="#800080" text-anchor="start" textLength="12.4" lengthAdjust="spacingAndGlyphs">B</text>
<text x="550.20" y="384.70" font-size="21.6" font-weight="normal" fill="#008000" text-anchor="start" textLength="12.4" lengthAdjust="spacingAndGlyphs">A</text>
<text x="550.30" y="620.10" font-size="21.6" font-weight="normal" fill="#800080" text-anchor="start" textLength="12.4" lengthAdjust="spacingAndGlyphs">B</text>
<text x="243.30" y="749.80" font-size="21.6" font-weight="normal" fill="#ff0000" text-anchor="start" textLength="14.3" lengthAdjust="spacingAndGlyphs">D</text>
<rect x="3" y="1032" width="790" height="1" fill="#a8a8a8"/>
<text x="35.3" y="1055" font-size="12.3" fill="#222" stroke="#222" stroke-width="0.4" textLength="59.5" lengthAdjust="spacingAndGlyphs"><tspan fill="#1a9a1a" stroke="#1a9a1a">A</tspan>: Hóa Lộc</text>
<text x="103.1" y="1055" font-size="12.3" fill="#222" stroke="#222" stroke-width="0.4" textLength="73.8" lengthAdjust="spacingAndGlyphs"><tspan fill="#cc00cc" stroke="#cc00cc">B</tspan>: Hóa Quyền</text>
<text x="185.6" y="1055" font-size="12.3" fill="#222" stroke="#222" stroke-width="0.4" textLength="66.3" lengthAdjust="spacingAndGlyphs"><tspan fill="#4a7be8" stroke="#4a7be8">C</tspan>: Hóa Khoa</text>
<text x="260.4" y="1055" font-size="12.3" fill="#222" stroke="#222" stroke-width="0.4" textLength="49.6" lengthAdjust="spacingAndGlyphs"><tspan fill="#ee0000" stroke="#ee0000">D</tspan>: Hóa Kị</text>
<rect x="326" y="1044" width="1" height="16" fill="#6b6b30"/>
<rect x="341.4" y="1045.4" width="12.4" height="12.4" fill="#999999"/>
<text x="359.70" y="1055.00" font-size="12" font-weight="normal" fill="#222" text-anchor="start" stroke="#222" stroke-width="0.4">Kim</text>
<rect x="389.2" y="1045.4" width="12.4" height="12.4" fill="#008c2a"/>
<text x="407.20" y="1055.00" font-size="12" font-weight="normal" fill="#222" text-anchor="start" stroke="#222" stroke-width="0.4">Mộc</text>
<rect x="438.6" y="1045.4" width="12.4" height="12.4" fill="#000000"/>
<text x="457.30" y="1055.00" font-size="12" font-weight="normal" fill="#222" text-anchor="start" stroke="#222" stroke-width="0.4">Thủy</text>
<rect x="492.1" y="1045.4" width="12.4" height="12.4" fill="#ff0000"/>
<text x="511.10" y="1055.00" font-size="12" font-weight="normal" fill="#222" text-anchor="start" stroke="#222" stroke-width="0.4">Hỏa</text>
<rect x="541" y="1045.4" width="12.4" height="12.4" fill="#ff9900"/>
<text x="559.40" y="1055.00" font-size="12" font-weight="normal" fill="#222" text-anchor="start" stroke="#222" stroke-width="0.4">Thổ</text>
<text x="607.50" y="1055.00" font-size="14" font-weight="normal" fill="#6a7649" text-anchor="start" textLength="157" lengthAdjust="spacingAndGlyphs" stroke="#6a7649" stroke-width="0.3">Tạo lá số: Tuvi.Kabala.vn</text>
</svg>
</body></html>
